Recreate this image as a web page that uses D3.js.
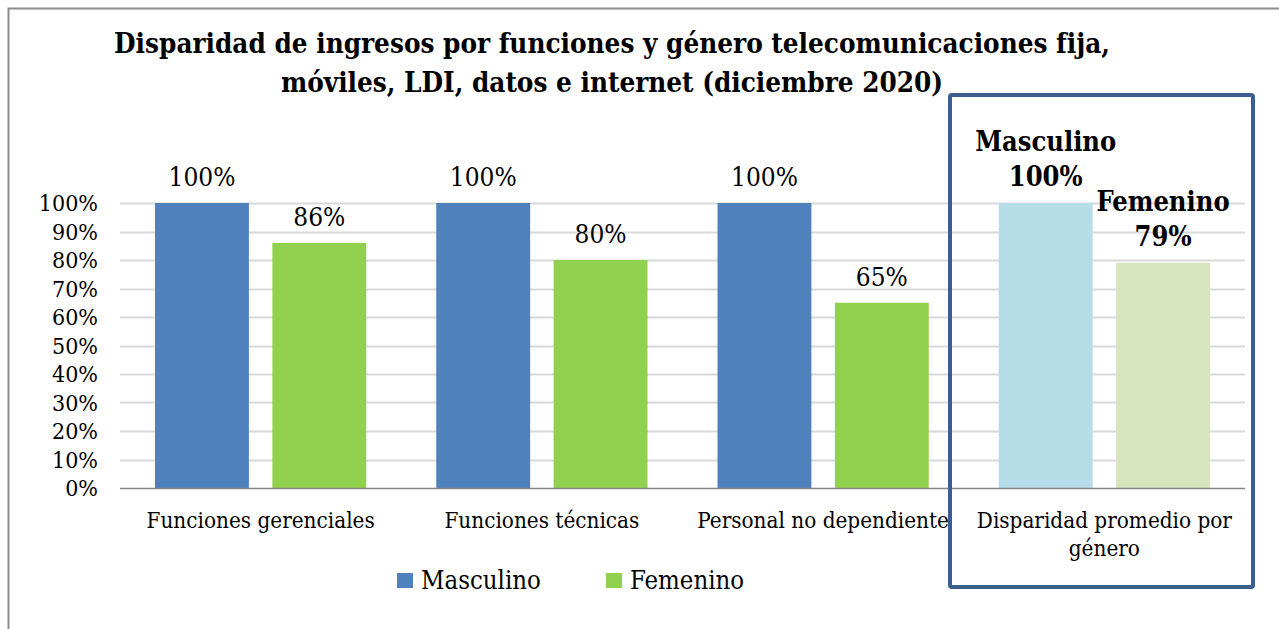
<!DOCTYPE html>
<html lang="es">
<head>
<meta charset="utf-8">
<title>Disparidad de ingresos</title>
<script src="https://d3js.org/d3.v7.min.js"></script>
<style>
  body { margin: 0; background: #fff; }
  text { font-family: "DejaVu Serif Condensed", "DejaVu Serif", serif; fill: #000; }
</style>
</head>
<body>
<div id="chart"></div>
<script>
// data
var categories = ["Funciones gerenciales", "Funciones técnicas", "Personal no dependiente", "Disparidad promedio por género"];
var series = ["Masculino", "Femenino"];
var masculino = [100, 100, 100, 100];
var femenino = [86, 80, 65, 79];
var yTicks = [0, 10, 20, 30, 40, 50, 60, 70, 80, 90, 100];

var width = 1279, height = 629;
var margin = {top: 203, right: 34, bottom: 141, left: 120};

var svg = d3.select("#chart").append("svg")
    .attr("width", width)
    .attr("height", height);

// outer frame (runs off the right and bottom of the picture)
svg.append("rect")
    .attr("x", 8.5).attr("y", 8.5)
    .attr("width", 1300).attr("height", 700)
    .attr("fill", "none").attr("stroke", "#8c8c8c").attr("stroke-width", 2);

// title
var title = svg.append("text")
    .attr("text-anchor", "middle")
    .style("font-weight", "bold")
    .style("font-size", "27.6px");
title.append("tspan").attr("x", 612).attr("y", 53)
    .text("Disparidad de ingresos por funciones y género telecomunicaciones fija,");
title.append("tspan").attr("x", 612).attr("y", 92)
    .text("móviles, LDI, datos e internet (diciembre 2020)");

var x0 = d3.scaleBand()
    .domain(categories)
    .range([margin.left, width - margin.right])
    .paddingInner(0)
    .paddingOuter(0);

var x1 = d3.scaleBand()
    .domain(series)
    .range([35, x0.bandwidth() - 35])
    .paddingInner(0.2);

var y = d3.scaleLinear()
    .domain([0, 100])
    .range([height - margin.bottom, margin.top]);

// gridlines
svg.append("g").selectAll("line")
    .data(yTicks.slice(1))
    .join("line")
    .attr("x1", margin.left).attr("x2", width - margin.right)
    .attr("y1", function(d) { return Math.round(y(d)) + 0.5; })
    .attr("y2", function(d) { return Math.round(y(d)) + 0.5; })
    .attr("stroke", "#d9d9d9").attr("stroke-width", 2);

// y axis labels
svg.append("g").selectAll("text")
    .data(yTicks)
    .join("text")
    .attr("x", 98)
    .attr("y", function(d) { return y(d); })
    .attr("dy", "0.36em")
    .attr("text-anchor", "end")
    .style("font-size", "23px")
    .text(function(d) { return d + "%"; });

var colors = {
    normal: ["#4f81bd", "#92d050"],
    avg: ["#b7dde8", "#d7e4bd"]
};

var rows = categories.map(function(c, i) {
    return {cat: c, i: i, vals: [masculino[i], femenino[i]]};
});

var groups = svg.append("g").selectAll("g")
    .data(rows)
    .join("g")
    .attr("transform", function(d) { return "translate(" + x0(d.cat) + ",0)"; });

groups.selectAll("rect")
    .data(function(d) {
        return d.vals.map(function(v, j) { return {s: series[j], v: v, j: j, last: d.i === categories.length - 1}; });
    })
    .join("rect")
    .attr("x", function(d) { return x1(d.s); })
    .attr("width", x1.bandwidth())
    .attr("y", function(d) { return y(d.v); })
    .attr("height", function(d) { return y(0) - y(d.v); })
    .attr("fill", function(d) { return d.last ? colors.avg[d.j] : colors.normal[d.j]; });

// value labels, plain for first three groups
groups.filter(function(d) { return d.i < categories.length - 1; })
    .selectAll("text.val")
    .data(function(d) { return d.vals.map(function(v, j) { return {s: series[j], v: v}; }); })
    .join("text")
    .attr("class", "val")
    .attr("x", function(d) { return x1(d.s) + x1.bandwidth() / 2; })
    .attr("y", function(d) { return y(d.v) - 17; })
    .attr("text-anchor", "middle")
    .style("font-size", "26px")
    .text(function(d) { return d.v + "%"; });

// bold labels with series name for the average group
groups.filter(function(d) { return d.i === categories.length - 1; })
    .selectAll("text.val")
    .data(function(d) { return d.vals.map(function(v, j) { return {s: series[j], v: v}; }); })
    .join("text")
    .attr("class", "val")
    .attr("text-anchor", "middle")
    .style("font-weight", "bold")
    .style("font-size", "27px")
    .each(function(d) {
        var t = d3.select(this);
        var cx = x1(d.s) + x1.bandwidth() / 2;
        t.append("tspan").attr("x", cx).attr("y", y(d.v) - 52).text(d.s);
        t.append("tspan").attr("x", cx).attr("y", y(d.v) - 17).text(d.v + "%");
    });

// baseline
svg.append("line")
    .attr("x1", margin.left).attr("x2", width - margin.right)
    .attr("y1", y(0) + 0.5).attr("y2", y(0) + 0.5)
    .attr("stroke", "#868686").attr("stroke-width", 1.5);

// category labels
var xl = svg.append("g").selectAll("text")
    .data(rows)
    .join("text")
    .attr("text-anchor", "middle")
    .style("font-size", "22.3px");
xl.each(function(d) {
    var t = d3.select(this);
    var cx = x0(d.cat) + x0.bandwidth() / 2;
    if (d.i === categories.length - 1) {
        t.append("tspan").attr("x", cx).attr("y", 528).text("Disparidad promedio por");
        t.append("tspan").attr("x", cx).attr("y", 556).text("género");
    } else {
        t.append("tspan").attr("x", cx).attr("y", 528).text(d.cat);
    }
});

// highlight box
svg.append("rect")
    .attr("x", 950).attr("y", 95)
    .attr("width", 303).attr("height", 492)
    .attr("rx", 2)
    .attr("fill", "none")
    .attr("stroke", "#3b5e8c")
    .attr("stroke-width", 4);

// legend
var legendX = [397, 606];
var leg = svg.append("g").selectAll("g")
    .data(series)
    .join("g")
    .attr("transform", function(d, i) { return "translate(" + legendX[i] + ",573)"; });
leg.append("rect")
    .attr("width", 16).attr("height", 15)
    .attr("fill", function(d, i) { return colors.normal[i]; });
leg.append("text")
    .attr("x", 24).attr("y", 16)
    .style("font-size", "25.5px")
    .text(function(d) { return d; });
</script>
</body>
</html>
